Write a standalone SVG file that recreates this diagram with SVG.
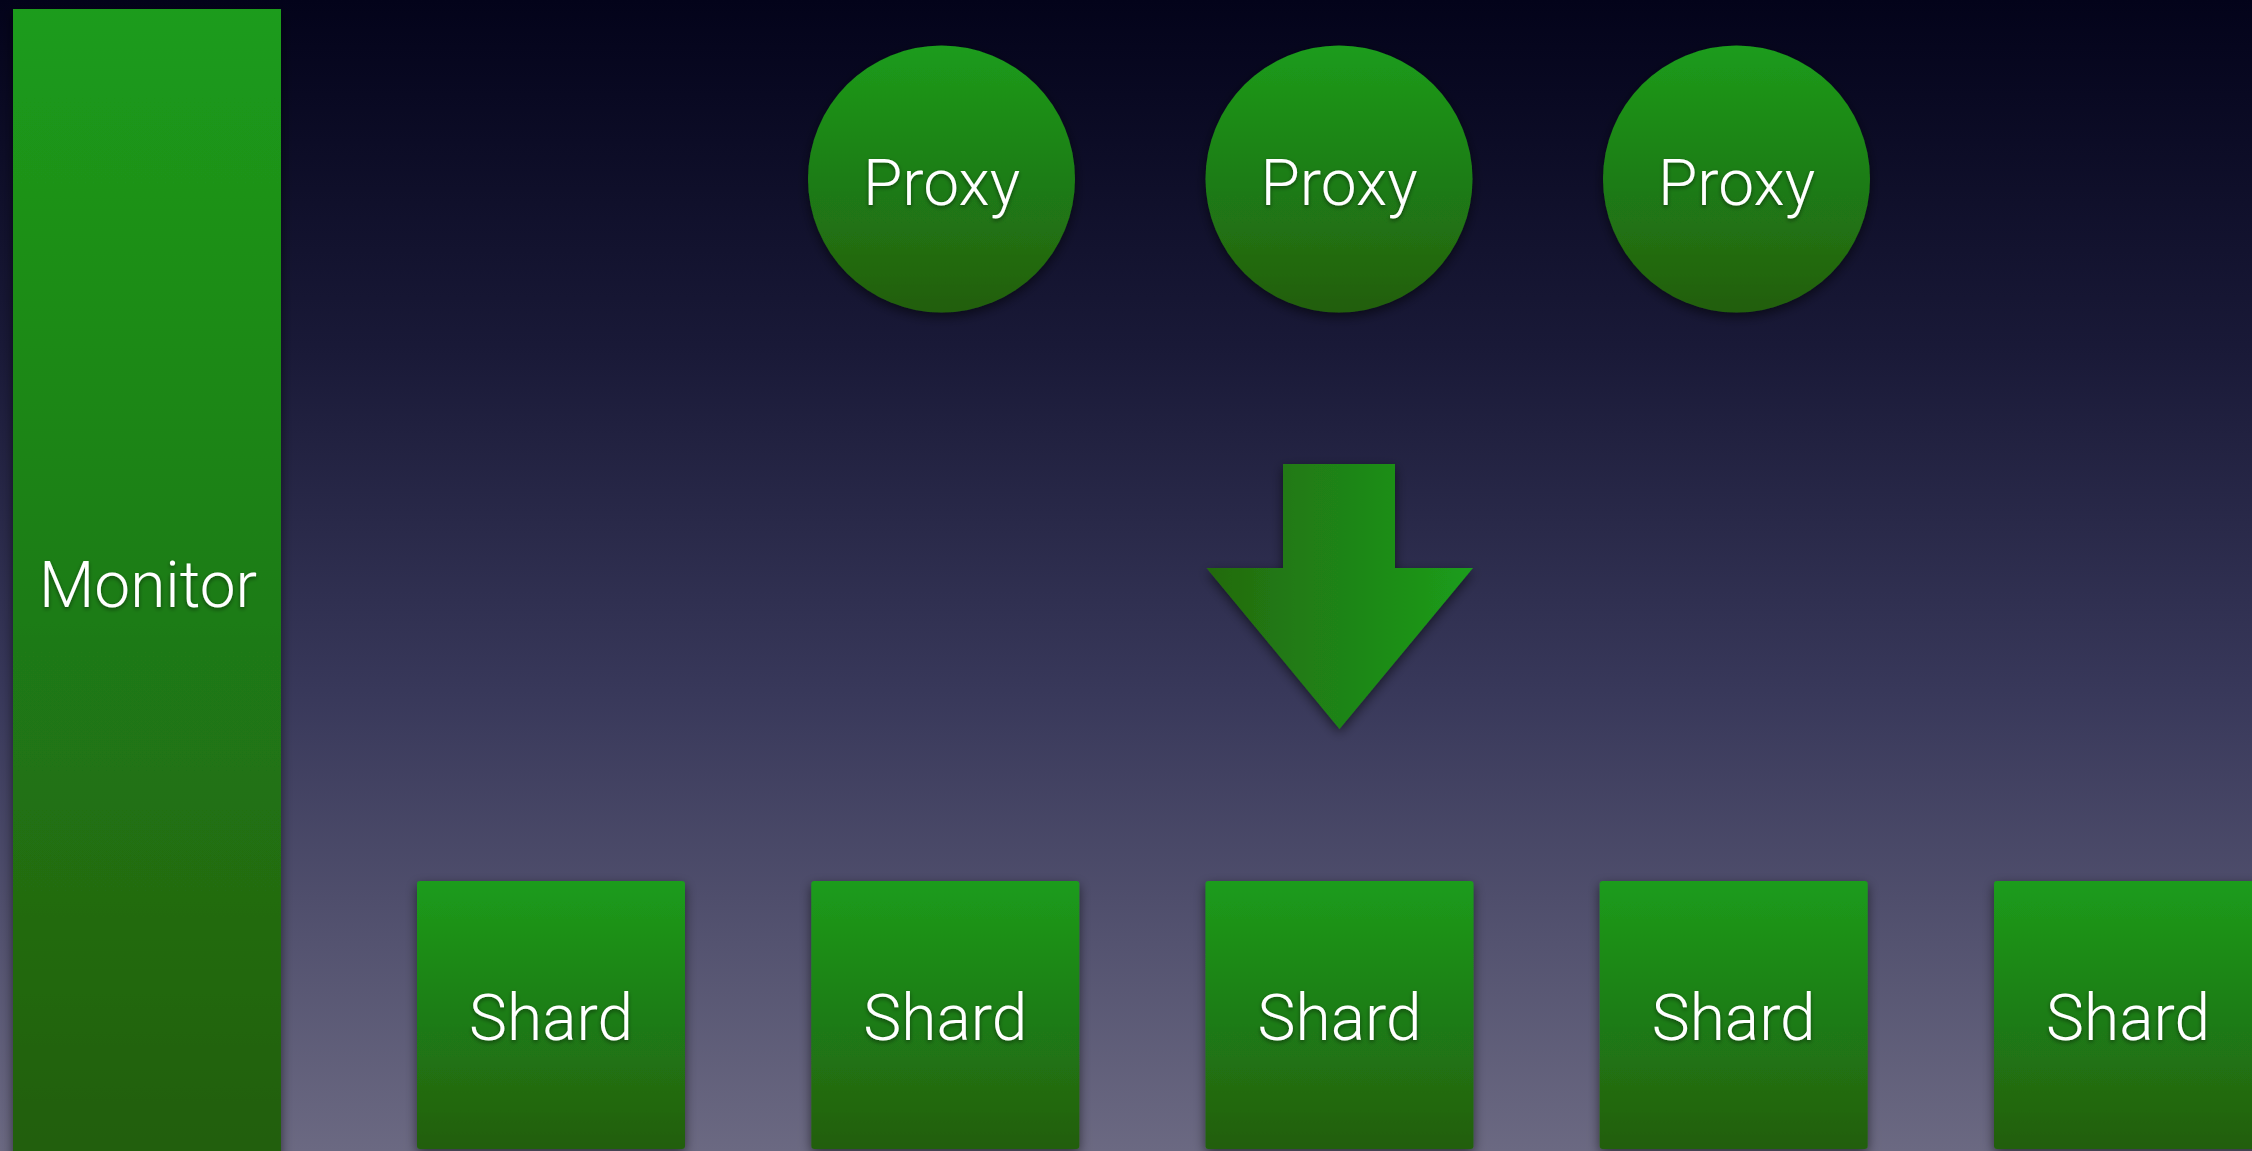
<svg xmlns="http://www.w3.org/2000/svg" width="2252" height="1151" viewBox="0 0 2252 1151">
  <defs>
    <linearGradient id="bg" x1="0" y1="0" x2="0" y2="1">
      <stop offset="0" stop-color="#03031a"/>
      <stop offset="0.3" stop-color="#191937"/>
      <stop offset="0.6" stop-color="#38385a"/>
      <stop offset="1" stop-color="#6b6982"/>
    </linearGradient>
    <linearGradient id="green" x1="0" y1="0" x2="0" y2="1">
      <stop offset="0" stop-color="#1a9c1b"/>
      <stop offset="1" stop-color="#235e0e"/>
    </linearGradient>
    <linearGradient id="greenH" x1="0" y1="0" x2="1" y2="0">
      <stop offset="0" stop-color="#246a0f"/>
      <stop offset="1" stop-color="#1a9d1b"/>
    </linearGradient>
    <filter id="shadow" x="-20%" y="-20%" width="140%" height="140%">
      <feDropShadow dx="0" dy="4" stdDeviation="6" flood-color="#000" flood-opacity="0.55"/>
    </filter>
    <filter id="tshadow" x="-10%" y="-20%" width="120%" height="150%">
      <feDropShadow dx="0" dy="2" stdDeviation="2" flood-color="#000" flood-opacity="0.45"/>
    </filter>
  </defs>
  <style>
    .box { fill: url(#green); filter: url(#shadow); }
    .label { font-family: "Helvetica Neue", Roboto, "Liberation Sans", sans-serif; font-weight: 300; font-size: 64px; fill: #ffffff; text-anchor: middle; filter: url(#tshadow); }
  </style>

  <rect x="0" y="0" width="2252" height="1151" fill="url(#bg)"/>

  <!-- Monitor column -->
  <g id="monitor">
    <rect class="box" x="13" y="9" width="268" height="1150"/>
    <text class="label" x="148" y="607">Monitor</text>
  </g>

  <!-- Proxies -->
  <g id="proxy-1">
    <circle class="box" cx="941.5" cy="179" r="133.5"/>
    <text class="label" x="941.5" y="205">Proxy</text>
  </g>
  <g id="proxy-2">
    <circle class="box" cx="1339" cy="179" r="133.5"/>
    <text class="label" x="1339" y="205">Proxy</text>
  </g>
  <g id="proxy-3">
    <circle class="box" cx="1736.5" cy="179" r="133.5"/>
    <text class="label" x="1736.5" y="205">Proxy</text>
  </g>

  <!-- Block arrow from proxies down to shards -->
  <g id="connectors">
    <path d="M1283,464 H1395 V568 H1473 L1339.5,729 L1206.5,568 H1283 Z" fill="url(#greenH)" filter="url(#shadow)"/>
  </g>

  <!-- Shards -->
  <g id="shard-1">
    <rect class="box" x="417" y="881" width="268" height="268" rx="3"/>
    <text class="label" x="551" y="1040">Shard</text>
  </g>
  <g id="shard-2">
    <rect class="box" x="811.3" y="881" width="268" height="268" rx="3"/>
    <text class="label" x="945.3" y="1040">Shard</text>
  </g>
  <g id="shard-3">
    <rect class="box" x="1205.5" y="881" width="268" height="268" rx="3"/>
    <text class="label" x="1339.5" y="1040">Shard</text>
  </g>
  <g id="shard-4">
    <rect class="box" x="1599.7" y="881" width="268" height="268" rx="3"/>
    <text class="label" x="1733.7" y="1040">Shard</text>
  </g>
  <g id="shard-5">
    <rect class="box" x="1994" y="881" width="268" height="268" rx="3"/>
    <text class="label" x="2128" y="1040">Shard</text>
  </g>
</svg>
